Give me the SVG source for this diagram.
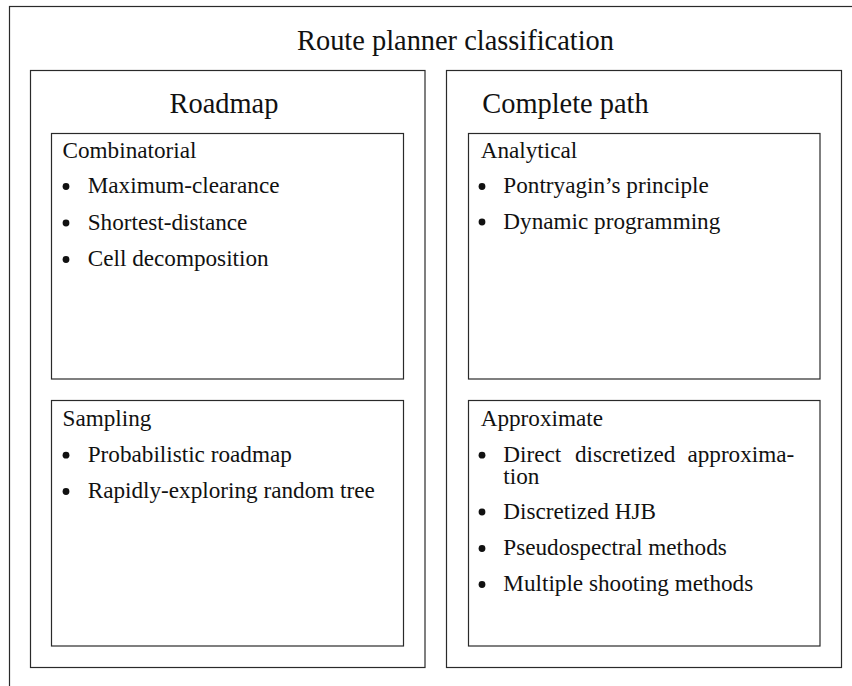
<svg xmlns="http://www.w3.org/2000/svg" width="852" height="686" viewBox="0 0 852 686">
  <style>
    .frame { fill: none; stroke: #2a2a2a; stroke-width: 1.2; }
    .big { font-family: "Liberation Serif", "Times New Roman", serif; font-size: 28.4px; fill: #111; }
    .txt { font-family: "Liberation Serif", "Times New Roman", serif; font-size: 23.2px; fill: #111; }
    .dot { fill: #111; }
  </style>
  <rect width="852" height="686" fill="#ffffff"/>

  <!-- outer classification frame (continues past the right and bottom edges) -->
  <g id="classification">
    <rect class="frame" x="9.5" y="6.5" width="900" height="720"/>
    <text class="big" x="455.5" y="49.5" text-anchor="middle">Route planner classification</text>
  </g>

  <!-- left column -->
  <g id="roadmap">
    <rect class="frame" x="30.5" y="70.5" width="394.5" height="597"/>
    <text class="big" x="224" y="112.5" text-anchor="middle">Roadmap</text>
  </g>

  <g id="combinatorial">
    <rect class="frame" x="51.5" y="133.5" width="352" height="245.5"/>
    <text class="txt" x="62.5" y="157.5">Combinatorial</text>
    <circle class="dot" cx="66" cy="186.5" r="3.4"/>
    <text class="txt" x="87.7" y="193">Maximum-clearance</text>
    <circle class="dot" cx="66" cy="223" r="3.4"/>
    <text class="txt" x="87.7" y="229.5">Shortest-distance</text>
    <circle class="dot" cx="66" cy="259.5" r="3.4"/>
    <text class="txt" x="87.7" y="266">Cell decomposition</text>
  </g>

  <g id="sampling">
    <rect class="frame" x="51.5" y="400.5" width="352" height="245.5"/>
    <text class="txt" x="62.5" y="425.7">Sampling</text>
    <circle class="dot" cx="66" cy="455.2" r="3.4"/>
    <text class="txt" x="87.7" y="461.7">Probabilistic roadmap</text>
    <circle class="dot" cx="66" cy="491.5" r="3.4"/>
    <text class="txt" x="87.7" y="498">Rapidly-exploring random tree</text>
  </g>

  <!-- right column -->
  <g id="complete-path">
    <rect class="frame" x="446.5" y="70.5" width="395" height="597"/>
    <text class="big" x="565.5" y="112.5" text-anchor="middle">Complete path</text>
  </g>

  <g id="analytical">
    <rect class="frame" x="468.5" y="133.5" width="351.5" height="245.5"/>
    <text class="txt" x="480.7" y="158">Analytical</text>
    <circle class="dot" cx="482" cy="186.5" r="3.4"/>
    <text class="txt" x="503.3" y="193">Pontryagin’s principle</text>
    <circle class="dot" cx="482" cy="222" r="3.4"/>
    <text class="txt" x="503.3" y="228.5">Dynamic programming</text>
  </g>

  <g id="approximate">
    <rect class="frame" x="468.5" y="400.5" width="351.5" height="245.5"/>
    <text class="txt" x="480.7" y="425.7">Approximate</text>
    <circle class="dot" cx="482" cy="455.2" r="3.4"/>
    <!-- justified line: words spread across the full measure -->
    <text class="txt" x="503.3" y="461.7">Direct</text>
    <text class="txt" x="575" y="461.7">discretized</text>
    <text class="txt" x="794.3" y="461.7" text-anchor="end">approxima-</text>
    <text class="txt" x="503.3" y="484">tion</text>
    <circle class="dot" cx="482" cy="512" r="3.4"/>
    <text class="txt" x="503.3" y="518.5">Discretized HJB</text>
    <circle class="dot" cx="482" cy="548.5" r="3.4"/>
    <text class="txt" x="503.3" y="555">Pseudospectral methods</text>
    <circle class="dot" cx="482" cy="584.5" r="3.4"/>
    <text class="txt" x="503.3" y="591">Multiple shooting methods</text>
  </g>

  <!-- no connectors in this diagram -->
  <g id="connectors"/>
</svg>
